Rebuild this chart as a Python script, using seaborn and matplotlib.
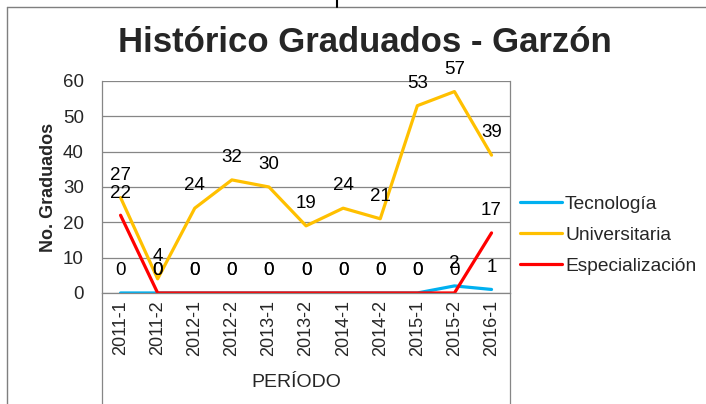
import matplotlib
matplotlib.use("Agg")
import matplotlib.pyplot as plt
from matplotlib.lines import Line2D
import pandas as pd
import seaborn as sns

# Data
periodos = ["2011-1", "2011-2", "2012-1", "2012-2", "2013-1", "2013-2",
            "2014-1", "2014-2", "2015-1", "2015-2", "2016-1"]
tecnologia = [0, 0, 0, 0, 0, 0, 0, 0, 0, 2, 1]
universitaria = [27, 4, 24, 32, 30, 19, 24, 21, 53, 57, 39]
especializacion = [22, 0, 0, 0, 0, 0, 0, 0, 0, 0, 17]

series = ["Tecnología", "Universitaria", "Especialización"]
colores = ["#00B0F0", "#FFC000", "#FF0000"]

# Long format table for seaborn
df = pd.DataFrame({
    "periodo": periodos * 3,
    "valor": tecnologia + universitaria + especializacion,
    "serie": [s for s in series for _ in periodos],
})
df["pos"] = df["periodo"].map({p: i for i, p in enumerate(periodos)})

sns.set_theme(style="white")
plt.rcParams["font.family"] = ["Liberation Sans", "DejaVu Sans"]

fig = plt.figure(figsize=(7.06, 4.04), dpi=100)
ax = fig.add_axes([0.1445, 0.2748, 0.578, 0.5248])

sns.lineplot(data=df, x="pos", y="valor", hue="serie", hue_order=series,
             palette=colores, linewidth=2.3, ax=ax, legend=False)

# Data labels
for serie, vals in zip(series, [tecnologia, universitaria, especializacion]):
    for i, v in enumerate(vals):
        ax.annotate(str(v), (i, v), xytext=(0, 16), textcoords="offset points",
                    ha="center", va="center", fontsize=13.5, color="black")

ax.set_xlim(-0.5, len(periodos) - 0.5)
ax.set_ylim(0, 60)
ax.set_yticks(range(0, 61, 10))
ax.set_xticks(range(len(periodos)))
ax.set_xticklabels(periodos, rotation=90, fontsize=13)
ax.tick_params(axis="y", labelsize=13.5, pad=13, length=0)
ax.tick_params(axis="x", pad=5, length=0)
ax.yaxis.grid(True, color="#868686", linewidth=0.9)
ax.set_axisbelow(True)

ax.spines["top"].set_visible(False)
for side in ["left", "right", "bottom"]:
    ax.spines[side].set_color("#868686")
    ax.spines[side].set_linewidth(0.9)

ax.set_xlabel("")
ax.set_ylabel("No. Graduados", fontsize=13, weight="bold", labelpad=4)

# Box lines of the category axis
for xa in [0, 1]:
    ax.add_line(Line2D([xa, xa], [0, -0.99], transform=ax.transAxes,
                       color="#868686", linewidth=0.9, clip_on=False))
fig.text(0.42, 0.052, "PERÍODO", ha="center", va="center", fontsize=14)

# Title
fig.text(0.517, 0.896, "Histórico Graduados - Garzón", ha="center", va="center",
         fontsize=25, weight="bold")

# Legend
handles = [Line2D([0], [0], color=c, linewidth=2.3) for c in colores]
fig.legend(handles, series, loc="center left", bbox_to_anchor=(0.7365, 0.418),
           frameon=False, fontsize=13.8, handlelength=2.2, handletextpad=0.15,
           labelspacing=0.72, borderpad=0, borderaxespad=0)

# Outer chart frame (partially cropped)
fig.add_artist(Line2D([7 / 706, 1], [1 - 7 / 404, 1 - 7 / 404],
                      transform=fig.transFigure, color="#7f7f7f", linewidth=1))
fig.add_artist(Line2D([7 / 706, 7 / 706], [0, 1 - 7 / 404],
                      transform=fig.transFigure, color="#7f7f7f", linewidth=1))
fig.add_artist(Line2D([337 / 706, 337 / 706], [1 - 7 / 404, 1],
                      transform=fig.transFigure, color="black", linewidth=1.5))

fig.savefig("out.png", dpi=100)
